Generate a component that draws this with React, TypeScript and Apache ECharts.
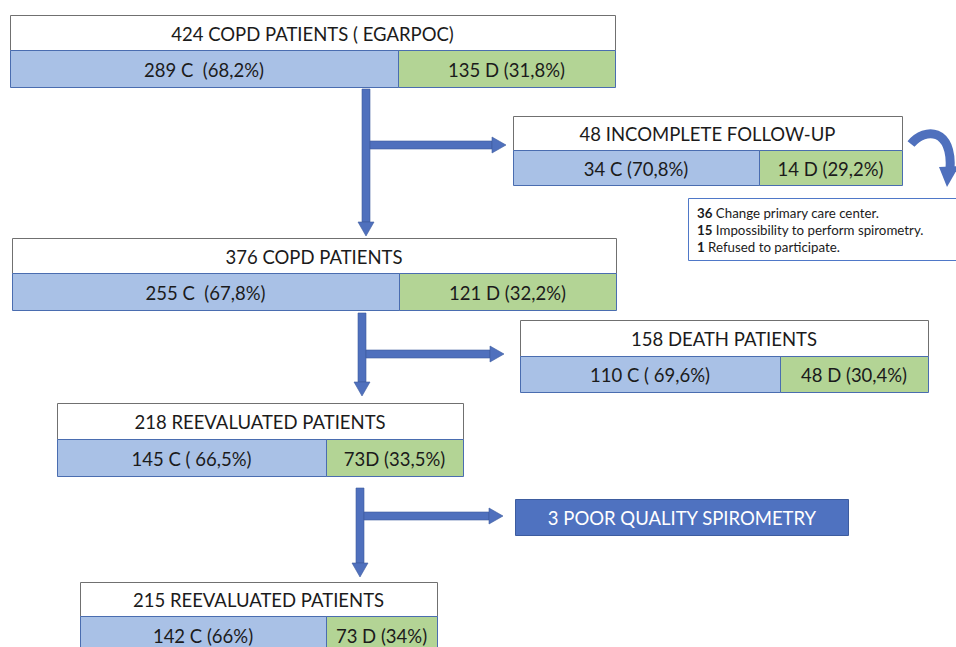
import React, { useEffect, useRef } from "react";
import * as echarts from "echarts";

// ---- data ----
const titles = [
  "424 COPD PATIENTS ( EGARPOC)",
  "48 INCOMPLETE FOLLOW-UP",
  "376 COPD PATIENTS",
  "158 DEATH PATIENTS",
  "218 REEVALUATED PATIENTS",
  "215 REEVALUATED PATIENTS",
];
const cLabels = ["289 C  (68,2%)", "34 C (70,8%)", "255 C  (67,8%)", "110 C ( 69,6%)", "145 C ( 66,5%)", "142 C (66%)"];
const dLabels = ["135 D (31,8%)", "14 D (29,2%)", "121 D (32,2%)", "48 D (30,4%)", "73D (33,5%)", "73 D (34%)"];
const reasonCounts = ["36", "15", "1"];
const reasonTexts = ["Change primary care center.", "Impossibility to perform spirometry.", "Refused to participate."];
const excludedLabel = "3 POOR QUALITY SPIROMETRY";

// ---- layout ----
const boxLayout = [
  { x: 10, y: 15, w: 605, h1: 35, h2: 37, split: 398 },
  { x: 513, y: 116, w: 389, h1: 34, h2: 35, split: 759 },
  { x: 12, y: 238, w: 604, h1: 35, h2: 37, split: 399 },
  { x: 520, y: 320, w: 408, h1: 36, h2: 36, split: 780 },
  { x: 57, y: 403, w: 406, h1: 36, h2: 37, split: 326 },
  { x: 80, y: 582, w: 357, h1: 34, h2: 40, split: 326 },
];
const arrows = [
  { x: 366, y0: 89, y1: 236, hy: 145, hx1: 506 },
  { x: 362, y0: 313, y1: 396, hy: 354, hx1: 504 },
  { x: 360, y0: 488, y1: 577, hy: 516, hx1: 503 },
];

const FONT = "Lato, 'Noto Sans', sans-serif";
const FS = 18.5;
const BLUE = "#a9c1e6";
const GREEN = "#b3d495";
const ARROW = "#4f70bd";
const BORDER_BLUE = "#4a6db0";
const BORDER_GRAY = "#707070";

function buildGraphics() {
  const els: any[] = [];
  boxLayout.forEach((b, i) => {
    const yS = b.y + b.h1;
    els.push({ type: "rect", shape: { x: b.x + 0.5, y: b.y + 0.5, width: b.w, height: b.h1 }, style: { fill: "#fff", stroke: BORDER_GRAY, lineWidth: 1 } });
    els.push({ type: "rect", shape: { x: b.x + 0.5, y: yS + 0.5, width: b.split - b.x, height: b.h2 }, style: { fill: BLUE, stroke: BORDER_BLUE, lineWidth: 1 } });
    els.push({ type: "rect", shape: { x: b.split + 0.5, y: yS + 0.5, width: b.x + b.w - b.split, height: b.h2 }, style: { fill: GREEN, stroke: BORDER_BLUE, lineWidth: 1 } });
    els.push({ type: "text", x: b.x + b.w / 2, y: b.y + b.h1 / 2 + 1, style: { text: titles[i], fill: "#1b1b1b", font: `${FS}px ${FONT}`, textAlign: "center", textVerticalAlign: "middle" } });
    els.push({ type: "text", x: (b.x + b.split) / 2, y: yS + Math.min(b.h2, 37) / 2 + 1, style: { text: cLabels[i], fill: "#1b1b1b", font: `${FS}px ${FONT}`, textAlign: "center", textVerticalAlign: "middle" } });
    els.push({ type: "text", x: (b.split + b.x + b.w) / 2, y: yS + Math.min(b.h2, 37) / 2 + 1, style: { text: dLabels[i], fill: "#1b1b1b", font: `${FS}px ${FONT}`, textAlign: "center", textVerticalAlign: "middle" } });
  });

  arrows.forEach((a) => {
    const sw = 4; // half shaft width
    const hw = 8; // half head width
    const hl = 14; // head length
    els.push({ type: "rect", shape: { x: a.x - sw, y: a.y0, width: sw * 2, height: a.y1 - a.y0 - hl }, style: { fill: ARROW, stroke: "#3e5c9e", lineWidth: 0.6 } });
    els.push({ type: "polygon", shape: { points: [[a.x - hw, a.y1 - hl], [a.x + hw, a.y1 - hl], [a.x, a.y1]] }, style: { fill: ARROW, stroke: "#3e5c9e", lineWidth: 0.6 } });
    els.push({ type: "rect", shape: { x: a.x + sw, y: a.hy - sw, width: a.hx1 - a.x - sw - hl, height: sw * 2 }, style: { fill: ARROW, stroke: "#3e5c9e", lineWidth: 0.6 } });
    els.push({ type: "polygon", shape: { points: [[a.hx1 - hl, a.hy - hw], [a.hx1 - hl, a.hy + hw], [a.hx1, a.hy]] }, style: { fill: ARROW, stroke: "#3e5c9e", lineWidth: 0.6 } });
  });

  // excluded box
  els.push({ type: "rect", shape: { x: 515.5, y: 499.5, width: 333, height: 36 }, style: { fill: "#4f72c0", stroke: "#3d5c9f", lineWidth: 1 } });
  els.push({ type: "text", x: 682, y: 518, style: { text: excludedLabel, fill: "#fff", font: `${FS}px ${FONT}`, textAlign: "center", textVerticalAlign: "middle" } });

  // reasons note
  els.push({ type: "rect", shape: { x: 688.5, y: 198.5, width: 280, height: 62 }, style: { fill: "#fff", stroke: "#4f78c8", lineWidth: 1 } });
  reasonCounts.forEach((c, i) => {
    els.push({
      type: "text",
      x: 697,
      y: 213 + i * 17,
      style: {
        text: `{b|${c}} ${reasonTexts[i]}`,
        fill: "#1b1b1b",
        font: `13.3px ${FONT}`,
        textAlign: "left",
        textVerticalAlign: "middle",
        rich: { b: { fontWeight: "bold", fontSize: 13.3, fontFamily: FONT, fill: "#1b1b1b" } },
      },
    });
  });

  // curved arrow
  els.push({ type: "bezierCurve", shape: { x1: 911, y1: 144, cpx1: 925, cpy1: 127, cpx2: 953, cpy2: 128, x2: 950, y2: 170 }, style: { stroke: ARROW, lineWidth: 9, fill: "none" } });
  els.push({ type: "polygon", shape: { points: [[939, 167], [959, 166], [947, 187]] }, style: { fill: ARROW } });

  return els;
}

export default function App() {
  const ref = useRef<HTMLDivElement>(null);
  useEffect(() => {
    if (!ref.current) return;
    const chart = echarts.init(ref.current, undefined, { renderer: "svg" });
    chart.setOption({
      animation: false,
      backgroundColor: "#ffffff",
      graphic: { elements: buildGraphics() },
    });
    return () => chart.dispose();
  }, []);
  return <div ref={ref} style={{ position: "fixed", left: 0, top: 0, width: 956, height: 647 }} />;
}
